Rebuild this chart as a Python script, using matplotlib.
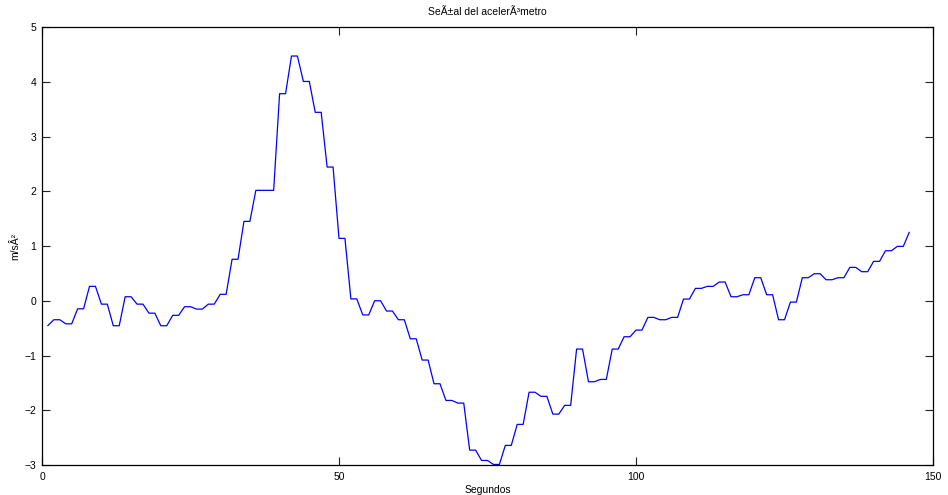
import matplotlib
matplotlib.use("Agg")
import matplotlib.pyplot as plt
import numpy as np

plt.rcParams['font.family'] = ['Liberation Sans', 'DejaVu Sans']

title = "Se\u00c3\u00b1al del aceler\u00c3\u00b3metro"
xlabel = "Segundos"
ylabel = "m/s\u00c2\u00b2"

# sample index (seconds)
seconds = list(range(1, 147))
# accelerometer signal
signal = [
    -0.45,
    -0.345, -0.345, -0.42, -0.42, -0.145, -0.145, 0.265, 0.265, -0.06, -0.06,
    -0.455, -0.455, 0.075, 0.075, -0.06, -0.06, -0.225, -0.225, -0.455, -0.455,
    -0.265, -0.265, -0.107, -0.107, -0.15, -0.15, -0.06, -0.06, 0.12, 0.12,
    0.76, 0.76, 1.453, 1.453, 2.02, 2.02, 2.02, 2.02, 3.786, 3.786,
    4.475, 4.475, 4.01, 4.01, 3.446, 3.446, 2.446, 2.446, 1.142, 1.142,
    0.036, 0.036, -0.257, -0.257, 0.002, 0.002, -0.186, -0.186, -0.345, -0.345,
    -0.693, -0.693, -1.082, -1.082, -1.515, -1.515, -1.82, -1.82, -1.868, -1.868,
    -2.728, -2.728, -2.917, -2.917, -2.99, -2.99, -2.642, -2.642, -2.258, -2.258,
    -1.67, -1.67, -1.745, -1.745, -2.07, -2.07, -1.91, -1.91, -0.881, -0.881,
    -1.478, -1.478, -1.436, -1.436, -0.881, -0.881, -0.656, -0.656, -0.534, -0.534,
    -0.302, -0.302, -0.345, -0.345, -0.302, -0.302, 0.033, 0.033, 0.228, 0.228,
    0.265, 0.265, 0.344, 0.344, 0.075, 0.075, 0.112, 0.112, 0.423, 0.423,
    0.112, 0.112, -0.345, -0.345, -0.022, -0.022, 0.423, 0.423, 0.496, 0.496,
    0.386, 0.386, 0.423, 0.423, 0.612, 0.612, 0.533, 0.533, 0.722, 0.722,
    0.916, 0.916, 0.996, 0.996,
    1.252,
]

xticks = [0, 50, 100, 150]
yticks = [-3, -2, -1, 0, 1, 2, 3, 4, 5]

fig = plt.figure(figsize=(9.48, 4.95), dpi=100)
ax = fig.add_axes([42 / 948, 30 / 495, 891 / 948, 437.7 / 495])
ax.plot(seconds, signal, color=(0, 0, 1), linewidth=0.9)

ax.set_xlim(0, 150)
ax.set_ylim(-3, 5)
ax.set_xticks(xticks)
ax.set_yticks(yticks)
ax.tick_params(direction='in', length=6, width=0.8, labelsize=7.5,
               top=True, right=True, color='#222222')
ax.tick_params(axis='x', pad=5)
ax.tick_params(axis='y', pad=4)
for s in ax.spines.values():
    s.set_linewidth(0.9)
ax.set_title(title, fontsize=7.5, pad=9)
ax.set_xlabel(xlabel, fontsize=7.5, labelpad=2)
ax.set_ylabel(ylabel, fontsize=7.5, labelpad=3)

fig.savefig("out.png", dpi=100)
